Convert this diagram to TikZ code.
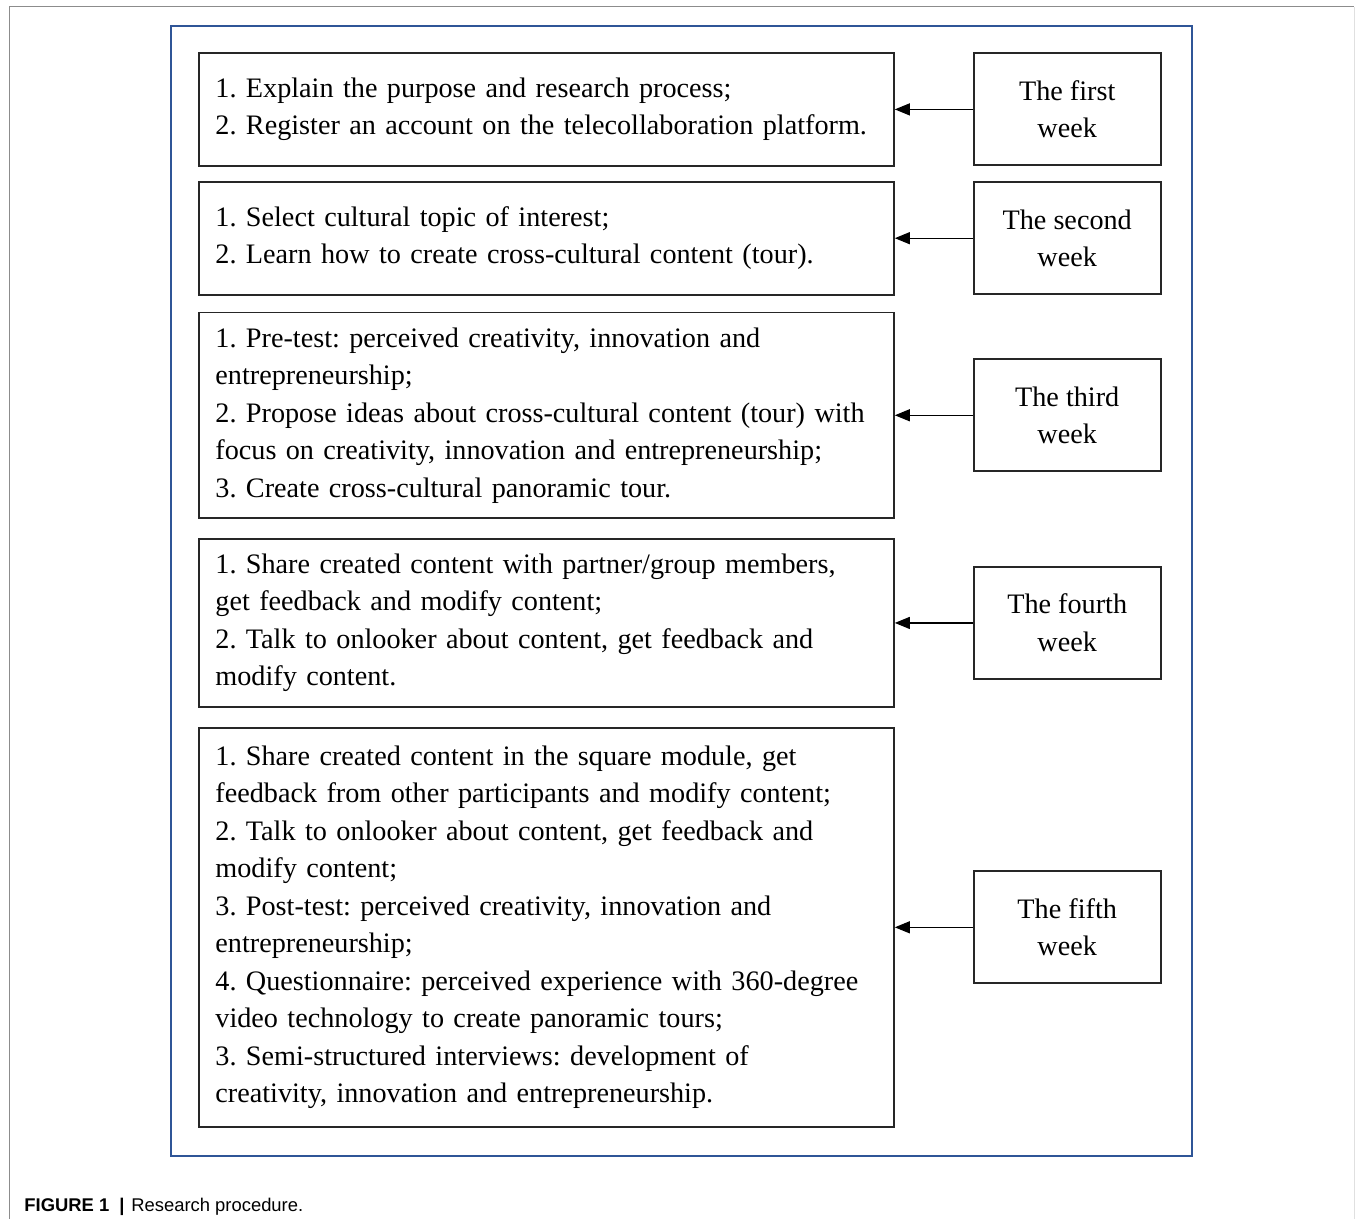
\documentclass[tikz,border=0pt]{standalone}
\usepackage{fontspec}
\setmainfont{Liberation Serif}
\newfontfamily\capfont{Liberation Sans}
\usetikzlibrary{positioning, arrows.meta}
\definecolor{frameblue}{RGB}{47,85,151}

\begin{document}
\begin{tikzpicture}[x=0.5pt, y=-0.5pt,
    task/.style={rectangle, draw=black!85, line width=0.9pt, text width=331pt, inner xsep=8.25pt, inner ysep=7.5pt, minimum height=56.5pt, align=left, font=\fontsize{14.1pt}{18.75pt}\selectfont\frenchspacing},
    week/.style={rectangle, draw=black!85, line width=0.9pt, minimum width=93.5pt, minimum height=56pt, align=center, font=\fontsize{14.1pt}{18.75pt}\selectfont},
    link/.style={draw, line width=0.6pt, -{Triangle[length=7.5pt, width=6pt]}}
]
\useasboundingbox (0,0) rectangle (1355,1219);

% Frames
\draw[black!45, line width=0.5pt] (9,1219) -- (9,7) -- (1354,7);
\draw[black!12, line width=0.5pt] (1354,7) -- (1354,1219);
\draw[frameblue, line width=1pt] (171,26) rectangle (1192,1156);

% Tasks
\node[task, anchor=north west] (FirstTasks) at (198,52) {1. Explain the purpose and research process;\\2. Register an account on the telecollaboration platform.};
\node[task, below=7pt of FirstTasks] (SecondTasks) {1. Select cultural topic of interest;\\2. Learn how to create cross-cultural content (tour).};
\node[task, below=8pt of SecondTasks] (ThirdTasks) {1. Pre-test: perceived creativity, innovation and\\entrepreneurship;\\2. Propose ideas about cross-cultural content (tour) with\\focus on creativity, innovation and entrepreneurship;\\3. Create cross-cultural panoramic tour.};
\node[task, below=9.5pt of ThirdTasks] (FourthTasks) {1. Share created content with partner/group members,\\get feedback and modify content;\\2. Talk to onlooker about content, get feedback and\\modify content.};
\node[task, below=9.5pt of FourthTasks, minimum height=199.5pt] (FifthTasks) {1. Share created content in the square module, get\\feedback from other participants and modify content;\\2. Talk to onlooker about content, get feedback and\\modify content;\\3. Post-test: perceived creativity, innovation and\\entrepreneurship;\\4. Questionnaire: perceived experience with 360-degree\\video technology to create panoramic tours;\\3. Semi-structured interviews: development of\\creativity, innovation and entrepreneurship.};

% Weeks
\node[week, right=39pt of FirstTasks] (FirstWeek) {The first\\week};
\node[week, right=39pt of SecondTasks] (SecondWeek) {The second\\week};
\node[week, right=39pt of ThirdTasks] (ThirdWeek) {The third\\week};
\node[week, right=39pt of FourthTasks] (FourthWeek) {The fourth\\week};
\node[week, right=39pt of FifthTasks] (FifthWeek) {The fifth\\week};

% Connections
\draw[link] (FirstWeek.west) -- (FirstWeek.west -| FirstTasks.east);
\draw[link] (SecondWeek.west) -- (SecondWeek.west -| SecondTasks.east);
\draw[link] (ThirdWeek.west) -- (ThirdWeek.west -| ThirdTasks.east);
\draw[link] (FourthWeek.west) -- (FourthWeek.west -| FourthTasks.east);
\draw[link] (FifthWeek.west) -- (FifthWeek.west -| FifthTasks.east);

% Caption
\node[anchor=west, inner sep=0pt, font=\capfont\fontsize{9.2pt}{11pt}\selectfont] (Caption) at (24,1207) {\textbf{FIGURE 1}\hspace{5pt}\textbf{|}\hspace{3.5pt}Research procedure.};

\end{tikzpicture}
\end{document}
